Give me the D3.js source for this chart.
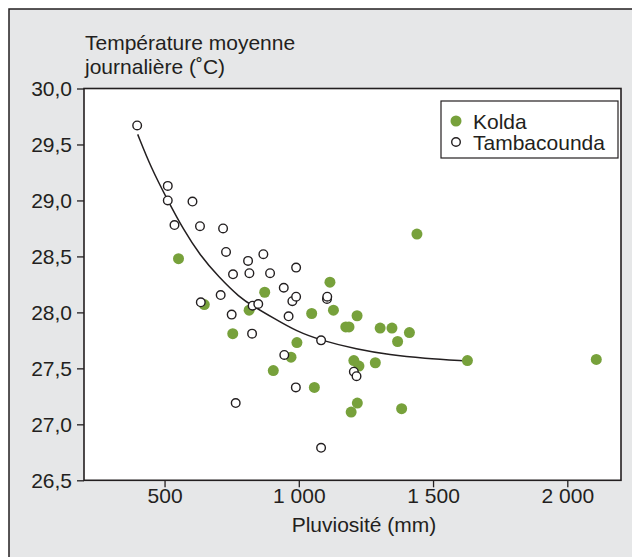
<!DOCTYPE html>
<html>
<head>
<meta charset="utf-8">
<script src="https://cdn.jsdelivr.net/npm/d3@7"></script>
<style>
  html, body { margin: 0; padding: 0; background: #ffffff; }
  svg { display: block; }
  text { font-family: "Liberation Sans", Arial, Helvetica, sans-serif; fill: #231f20; }
</style>
</head>
<body>
<svg id="chart" width="632" height="557"></svg>
<script>
// ---- Data ----
const koldaRain = [552, 648, 754, 815, 873, 905, 971, 993, 1048, 1058, 1116, 1129, 1175, 1187, 1217, 1205, 1224, 1218, 1195, 1285, 1303, 1347, 1368, 1412, 1383, 1440, 1628, 2108];
const koldaTemp = [28.48, 28.07, 27.81, 28.02, 28.18, 27.48, 27.60, 27.73, 27.99, 27.33, 28.27, 28.02, 27.87, 27.87, 27.97, 27.57, 27.52, 27.19, 27.11, 27.55, 27.86, 27.86, 27.74, 27.82, 27.14, 28.70, 27.57, 27.58];

const tambaRain = [398, 512, 512, 604, 537, 632, 718, 729, 811, 868, 755, 816, 893, 990, 944, 709, 635, 750, 828, 849, 976, 990, 962, 1105, 1106, 826, 1083, 946, 1205, 1215, 989, 765, 1083];
const tambaTemp = [29.67, 29.13, 29.00, 28.99, 28.78, 28.77, 28.75, 28.54, 28.46, 28.52, 28.34, 28.35, 28.35, 28.40, 28.22, 28.155, 28.09, 27.98, 28.06, 28.075, 28.10, 28.14, 27.965, 28.12, 28.14, 27.81, 27.75, 27.62, 27.47, 27.43, 27.33, 27.19, 26.79];

const trendRain = [400, 450, 512, 570, 632, 700, 781, 827, 905, 992, 1083, 1216, 1340, 1464, 1625];
const trendTemp = [29.59, 29.29, 29.00, 28.74, 28.51, 28.32, 28.13, 28.06, 27.95, 27.83, 27.75, 27.67, 27.62, 27.59, 27.565];

const xTicks = [500, 1000, 1500, 2000];
const xTickLabels = ["500", "1 000", "1 500", "2 000"];
const yTicks = [26.5, 27.0, 27.5, 28.0, 28.5, 29.0, 29.5, 30.0];
const yTickLabels = ["26,5", "27,0", "27,5", "28,0", "28,5", "29,0", "29,5", "30,0"];

const seriesNames = ["Kolda", "Tambacounda"];
const yTitleLines = ["Température moyenne", "journalière (˚C)"];
const xTitle = "Pluviosité (mm)";

// ---- Layout ----
const green = "#77a13b";
const ink = "#231f20";
const bg = "#e6e7e8";
const plot = { left: 84, right: 621, top: 88.5, bottom: 480.3 };

const svg = d3.select("#chart");

// outer panel
svg.append("rect")
  .attr("x", 9).attr("y", 9).attr("width", 640).attr("height", 570)
  .attr("fill", bg).attr("stroke", ink).attr("stroke-width", 1.5);

// plot area
svg.append("rect")
  .attr("x", plot.left).attr("y", plot.top)
  .attr("width", plot.right - plot.left).attr("height", plot.bottom - plot.top)
  .attr("fill", "#ffffff");

const x = d3.scaleLinear().domain([200, 2200]).range([plot.left, plot.right]);
const y = d3.scaleLinear().domain([26.5, 30]).range([plot.bottom, plot.top]);

// axes
const xAxis = d3.axisBottom(x).tickValues(xTicks)
  .tickFormat((d, i) => xTickLabels[i]).tickSize(7).tickPadding(1);
const yAxis = d3.axisLeft(y).tickValues(yTicks)
  .tickFormat((d, i) => yTickLabels[i]).tickSize(7).tickPadding(5);

const gx = svg.append("g").attr("transform", `translate(0,${plot.bottom})`).call(xAxis);
const gy = svg.append("g").attr("transform", `translate(${plot.left},0)`).call(yAxis);
[gx, gy].forEach(g => {
  g.select(".domain").remove();
  g.selectAll(".tick line").attr("stroke", ink).attr("stroke-width", 1.3);
  g.selectAll(".tick text").attr("fill", ink)
    .style("font-size", "21px")
    .style("font-family", "'Liberation Sans', Arial, sans-serif");
});

// trend curve
const trend = trendRain.map((r, i) => [r, trendTemp[i]]);
svg.append("path")
  .datum(trend)
  .attr("fill", "none").attr("stroke", ink).attr("stroke-width", 1.5)
  .attr("d", d3.line().x(d => x(d[0])).y(d => y(d[1])).curve(d3.curveBasis));

// Kolda (filled green)
svg.append("g").selectAll("circle")
  .data(koldaRain.map((r, i) => [r, koldaTemp[i]]))
  .join("circle")
  .attr("cx", d => x(d[0])).attr("cy", d => y(d[1]))
  .attr("r", 5.5).attr("fill", green);

// Tambacounda (open circles)
svg.append("g").selectAll("circle")
  .data(tambaRain.map((r, i) => [r, tambaTemp[i]]))
  .join("circle")
  .attr("cx", d => x(d[0])).attr("cy", d => y(d[1]))
  .attr("r", 4.3).attr("fill", "#ffffff").attr("stroke", ink).attr("stroke-width", 1.4);

// plot frame
svg.append("rect")
  .attr("x", plot.left).attr("y", plot.top)
  .attr("width", plot.right - plot.left).attr("height", plot.bottom - plot.top)
  .attr("fill", "none").attr("stroke", ink).attr("stroke-width", 1.6);

// y title
svg.append("g").selectAll("text")
  .data(yTitleLines).join("text")
  .attr("x", 85).attr("y", (d, i) => 50 + i * 24)
  .style("font-size", "21px").text(d => d);

// x title
svg.append("text")
  .attr("x", 364).attr("y", 532).attr("text-anchor", "middle")
  .style("font-size", "21px").text(xTitle);

// legend
const lg = svg.append("g");
lg.append("rect")
  .attr("x", 441).attr("y", 101).attr("width", 177).attr("height", 57)
  .attr("fill", "#ffffff").attr("stroke", ink).attr("stroke-width", 1.2);
lg.append("circle").attr("cx", 456).attr("cy", 121).attr("r", 5.5).attr("fill", green);
lg.append("circle").attr("cx", 456).attr("cy", 142).attr("r", 4.3)
  .attr("fill", "#ffffff").attr("stroke", ink).attr("stroke-width", 1.4);
lg.selectAll("text.lbl").data(seriesNames).join("text")
  .attr("class", "lbl")
  .attr("x", 473).attr("y", (d, i) => 128.5 + i * 21)
  .style("font-size", "21px").text(d => d);
</script>
</body>
</html>
